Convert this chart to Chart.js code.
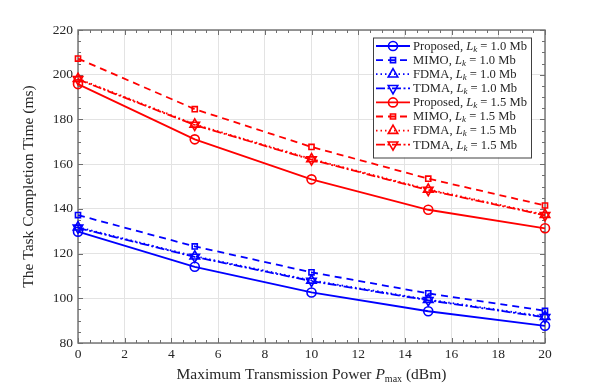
<!DOCTYPE html>
<html>
<head>
<meta charset="utf-8">
<script src="https://cdn.jsdelivr.net/npm/chart.js@4.4.1/dist/chart.umd.min.js"></script>
<style>
  html, body { margin: 0; padding: 0; background: #ffffff; }
  #wrap { width: 598px; height: 385px; }
</style>
</head>
<body>
<div id="wrap"><canvas id="c" width="598" height="385"></canvas></div>
<script>
// ---- data ----
const powerDbm = [0, 5, 10, 15, 20];
const proposed10 = [129.8, 114.1, 102.6, 94.2, 87.7];
const mimo10     = [137.2, 123.2, 111.6, 102.2, 94.4];
const fdma10     = [131.8, 118.8, 108.0, 99.4, 91.8];
const tdma10     = [131.5, 118.5, 107.7, 99.1, 91.5];
const proposed15 = [195.8, 171.1, 153.2, 139.6, 131.3];
const mimo15     = [207.2, 184.6, 167.7, 153.5, 141.5];
const fdma15     = [198.2, 177.8, 162.3, 148.7, 137.4];
const tdma15     = [197.9, 177.5, 162.0, 148.4, 137.1];
const schemeNames = ['Proposed', 'MIMO', 'FDMA', 'TDMA', 'Proposed', 'MIMO', 'FDMA', 'TDMA'];
const sizeLabels  = ['1.0', '1.0', '1.0', '1.0', '1.5', '1.5', '1.5', '1.5'];
const xTickLabels = ['0','2','4','6','8','10','12','14','16','18','20'];
const yTickLabels = ['80','100','120','140','160','180','200','220'];
const xTitle = ['Maximum Transmission Power ', 'P', 'max', ' (dBm)'];
const yTitle = 'The Task Completion Time (ms)';

const BLUE = '#0000ff', RED = '#ff0000';
const SERIF = '"Liberation Serif", "DejaVu Serif", serif';

function mk(values, color, style) {
  const s = {
    solid:   { dash: [],              point: 'circle',   r: 4.5, rot: 0 },
    dashed:  { dash: [7, 5],          point: 'rect',     r: 3.6, rot: 0 },
    dotted:  { dash: [1.5, 3],        point: 'triangle', r: 5.5, rot: 0 },
    dashdot: { dash: [9, 2.5, 2, 2.5], point: 'triangle', r: 5.5, rot: 180 }
  }[style];
  return {
    data: values.map((v, i) => ({ x: powerDbm[i], y: v })),
    borderColor: color, backgroundColor: 'rgba(0,0,0,0)',
    borderWidth: 1.8, borderDash: s.dash,
    pointStyle: s.point, pointRadius: s.r, pointRotation: s.rot,
    pointBorderColor: color, pointBackgroundColor: 'rgba(255,255,255,0)',
    pointBorderWidth: 1.6, tension: 0, clip: false
  };
}

const datasets = [
  mk(proposed10, BLUE, 'solid'),
  mk(mimo10, BLUE, 'dashed'),
  mk(fdma10, BLUE, 'dotted'),
  mk(tdma10, BLUE, 'dashdot'),
  mk(proposed15, RED, 'solid'),
  mk(mimo15, RED, 'dashed'),
  mk(fdma15, RED, 'dotted'),
  mk(tdma15, RED, 'dashdot')
];

const AXIS = '#6e6e6e';
const TXT = '#262626';

const boxPlugin = {
  id: 'box',
  beforeDatasetsDraw(chart) {
    const { ctx, chartArea: a, scales } = chart;
    const xs = scales.x, ys = scales.y;
    ctx.save();
    ctx.strokeStyle = AXIS;
    ctx.lineWidth = 1;
    ctx.setLineDash([]);
    ctx.beginPath();
    for (let v = 0; v <= 20.001; v += 0.5) {
      const px = Math.round(xs.getPixelForValue(v)) + 0.5;
      const major = Math.abs(v / 2 - Math.round(v / 2)) < 1e-6;
      const len = major ? 5 : 3;
      ctx.moveTo(px, a.bottom); ctx.lineTo(px, a.bottom - len);
      ctx.moveTo(px, a.top); ctx.lineTo(px, a.top + len);
    }
    for (let v = 80; v <= 220.001; v += 5) {
      const py = Math.round(ys.getPixelForValue(v)) + 0.5;
      const major = v % 20 === 0;
      const len = major ? 5 : 3;
      ctx.moveTo(a.left, py); ctx.lineTo(a.left + len, py);
      ctx.moveTo(a.right, py); ctx.lineTo(a.right - len, py);
    }
    ctx.stroke();
    ctx.lineWidth = 1.4;
    ctx.strokeRect(a.left, a.top, a.right - a.left, a.bottom - a.top);
    ctx.restore();
  },
  afterDraw(chart) {
    const { ctx, chartArea: a } = chart;
    ctx.save();
    ctx.fillStyle = TXT;
    ctx.textBaseline = 'alphabetic';
    const fMain = '15.5px ' + SERIF, fIt = 'italic 15.5px ' + SERIF, fSub = '10px ' + SERIF;
    const parts = [[xTitle[0], fMain, 0], [xTitle[1], fIt, 0], [xTitle[2], fSub, 3], [xTitle[3], fMain, 0]];
    let tw = 0;
    parts.forEach(p => { ctx.font = p[1]; tw += ctx.measureText(p[0]).width; });
    let x = (a.left + a.right) / 2 - tw / 2;
    const by = 379;
    parts.forEach(p => { ctx.font = p[1]; ctx.fillText(p[0], x, by + p[2]); x += ctx.measureText(p[0]).width; });
    ctx.save();
    ctx.translate(29, (a.top + a.bottom) / 2);
    ctx.rotate(-Math.PI / 2);
    ctx.font = '15.5px ' + SERIF;
    ctx.textAlign = 'center';
    ctx.textBaseline = 'middle';
    ctx.fillText(yTitle, 0, 0);
    ctx.restore();

    // legend
    const lx = 373, ly = 37.5, lw = 158, lh = 120;
    ctx.fillStyle = '#ffffff';
    ctx.fillRect(lx, ly, lw, lh);
    ctx.strokeStyle = '#404040';
    ctx.lineWidth = 1;
    ctx.strokeRect(lx + 0.5, ly + 0.5, lw, lh);
    const rowH = 14.1;
    chart.data.datasets.forEach((ds, i) => {
      const cy = ly + 8.5 + i * rowH;
      ctx.save();
      ctx.strokeStyle = ds.borderColor;
      ctx.fillStyle = 'rgba(255,255,255,0)';
      ctx.lineWidth = ds.borderWidth;
      ctx.setLineDash(ds.borderDash);
      ctx.beginPath();
      ctx.moveTo(376, cy); ctx.lineTo(410, cy);
      ctx.stroke();
      ctx.setLineDash([]);
      ctx.lineWidth = ds.pointBorderWidth;
      Chart.helpers.drawPoint(ctx, {
        pointStyle: ds.pointStyle, rotation: ds.pointRotation,
        radius: ds.pointRadius, borderWidth: ds.pointBorderWidth
      }, 393, cy);
      ctx.restore();
      ctx.fillStyle = TXT;
      ctx.textBaseline = 'middle';
      const segs = [[schemeNames[i] + ', ', '12.6px ' + SERIF, 0], ['L', 'italic 12.6px ' + SERIF, 0],
                    ['k', 'italic 9px ' + SERIF, 3], [' = ' + sizeLabels[i] + ' Mb', '12.6px ' + SERIF, 0]];
      let tx = 413;
      segs.forEach(s => { ctx.font = s[1]; ctx.fillText(s[0], tx, cy + 0.5 + s[2]); tx += ctx.measureText(s[0]).width; });
    });
    ctx.restore();
  }
};

new Chart(document.getElementById('c'), {
  type: 'line',
  data: { datasets },
  options: {
    responsive: false,
    animation: false,
    devicePixelRatio: 1,
    layout: { padding: { top: 30, right: 53, left: 0, bottom: 0 } },
    plugins: { legend: { display: false }, tooltip: { enabled: false } },
    scales: {
      x: {
        type: 'linear', min: 0, max: 20,
        afterFit: s => { s.height = 42; },
        afterBuildTicks: s => { s.ticks = xTickLabels.map(t => ({ value: Number(t) })); },
        ticks: { callback: (v) => xTickLabels[xTickLabels.indexOf(String(v))], font: { family: SERIF, size: 13.5 }, color: TXT, padding: 3, maxRotation: 0, autoSkip: false },
        grid: { color: '#e3e3e3', lineWidth: 1, drawTicks: false, tickLength: 0 },
        border: { display: false }
      },
      y: {
        type: 'linear', min: 80, max: 220,
        afterFit: s => { s.width = 78; },
        afterBuildTicks: s => { s.ticks = yTickLabels.map(t => ({ value: Number(t) })); },
        ticks: { callback: (v) => yTickLabels[yTickLabels.indexOf(String(v))], font: { family: SERIF, size: 13.5 }, color: TXT, padding: 5, autoSkip: false },
        grid: { color: '#e3e3e3', lineWidth: 1, drawTicks: false, tickLength: 0 },
        border: { display: false }
      }
    }
  },
  plugins: [boxPlugin]
});
</script>
</body>
</html>
